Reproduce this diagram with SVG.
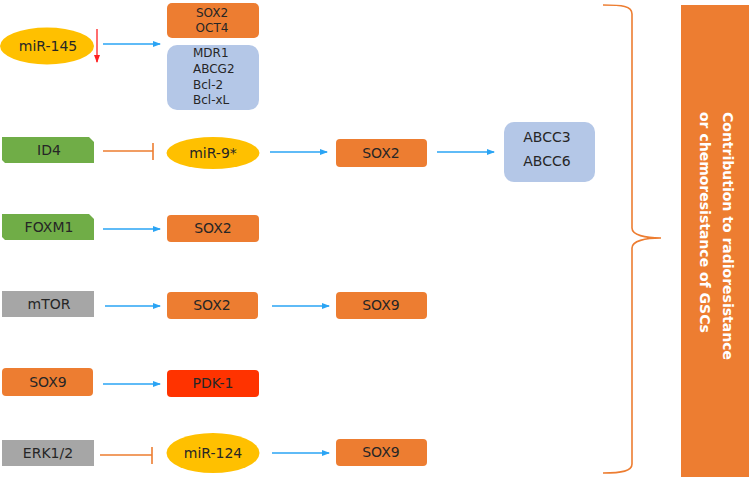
<svg xmlns="http://www.w3.org/2000/svg" width="752" height="486" viewBox="0 0 752 486">
<defs>
<style>
.t{font-family:"DejaVu Sans",Verdana,sans-serif;font-size:14px;fill:#262626;text-anchor:middle}
.s{font-size:12px}
.l{text-anchor:start}
.or{fill:#ed7d31}
.ye{fill:#ffc000}
.bl{fill:#b4c7e7}
.gr{fill:#70ad47}
.gy{fill:#a6a6a6}
.rd{fill:#ff3300}
.ar{stroke:#2aa4f4;stroke-width:1.3;fill:none;marker-end:url(#ah)}
.inh{stroke:#ed7d31;stroke-width:1.6;fill:none}
.side{font-family:"DejaVu Sans",Verdana,sans-serif;font-size:14px;font-weight:bold;fill:#ffffff}
</style>
<marker id="ah" markerWidth="8" markerHeight="6" refX="7" refY="3" orient="auto" markerUnits="userSpaceOnUse">
<path d="M0,0 L8,3 L0,6 Z" fill="#2aa4f4"/>
</marker>
<marker id="rh" markerWidth="6" markerHeight="8" refX="3" refY="7" orient="auto-start-reverse" markerUnits="userSpaceOnUse">
<path d="M0,0 L3,8 L6,0 Z" fill="#ff2020"/>
</marker>
</defs>
<rect width="752" height="486" fill="#ffffff"/>

<g id="connectors">
<line x1="97" y1="29" x2="97" y2="62" stroke="#ff2020" stroke-width="1.3"/>
<path d="M94,55 L97,63 L100,55 Z" fill="#ff2020"/>
<line class="ar" x1="103" y1="44" x2="160" y2="44"/>
<path class="inh" d="M103,151 L153,151 M153,143 L153,160"/>
<line class="ar" x1="270" y1="152" x2="327" y2="152"/>
<line class="ar" x1="437" y1="152" x2="494" y2="152"/>
<line class="ar" x1="103" y1="229" x2="160" y2="229"/>
<line class="ar" x1="105" y1="306" x2="160" y2="306"/>
<line class="ar" x1="272" y1="306" x2="329" y2="306"/>
<line class="ar" x1="103" y1="384" x2="160" y2="384"/>
<path class="inh" d="M100,455 L152,455 M152,447 L152,464"/>
<line class="ar" x1="272" y1="453" x2="329" y2="453"/>
<path d="M603,5 C622,5 632,6 632,14 L632,228 C632,235 645,238 661,238 C645,238 632,241 632,248 L632,464 C632,471 622,473 603,473" stroke="#ed7d31" stroke-width="1.6" fill="none"/>
</g>

<g id="miR145">
<ellipse class="ye" cx="47" cy="46" rx="47" ry="18.5"/>
<text class="t" x="48" y="51">miR-145</text>
</g>
<g id="sox2oct4">
<rect class="or" x="167" y="3" width="92" height="35" rx="5"/>
<text class="t s" x="212" y="17">SOX2</text>
<text class="t s" x="212" y="32">OCT4</text>
</g>
<g id="mdr1">
<rect class="bl" x="167" y="45" width="92" height="65" rx="10"/>
<text class="t s l" x="193" y="57">MDR1</text>
<text class="t s l" x="193" y="73">ABCG2</text>
<text class="t s l" x="193" y="89">Bcl-2</text>
<text class="t s l" x="193" y="104">Bcl-xL</text>
</g>

<g id="ID4">
<path class="gr" d="M2,137 L89,137 L94,142 L94,163 L5,163 L2,160 Z"/>
<text class="t" x="49" y="155">ID4</text>
</g>
<g id="miR9">
<ellipse class="ye" cx="213" cy="153" rx="46.5" ry="16"/>
<text class="t" x="213" y="158">miR-9*</text>
</g>
<g id="sox2a">
<rect class="or" x="336" y="139" width="91" height="28" rx="4"/>
<text class="t" x="381" y="158">SOX2</text>
</g>
<g id="abcc">
<rect class="bl" x="504" y="122" width="91" height="60" rx="10"/>
<text class="t" x="547" y="142">ABCC3</text>
<text class="t" x="547" y="166">ABCC6</text>
</g>

<g id="FOXM1">
<path class="gr" d="M2,214 L89,214 L94,219 L94,240 L5,240 L2,237 Z"/>
<text class="t" x="49" y="232">FOXM1</text>
</g>
<g id="sox2b">
<rect class="or" x="167" y="215" width="92" height="27" rx="4"/>
<text class="t" x="213" y="233">SOX2</text>
</g>

<g id="mTOR">
<rect class="gy" x="2" y="291" width="92" height="26"/>
<text class="t" x="49" y="309">mTOR</text>
</g>
<g id="sox2c">
<rect class="or" x="167" y="292" width="91" height="27" rx="4"/>
<text class="t" x="212" y="310">SOX2</text>
</g>
<g id="sox9a">
<rect class="or" x="336" y="292" width="91" height="27" rx="4"/>
<text class="t" x="381" y="310">SOX9</text>
</g>

<g id="sox9src">
<rect class="or" x="2" y="368" width="91" height="28" rx="4"/>
<text class="t" x="48" y="387">SOX9</text>
</g>
<g id="pdk1">
<rect class="rd" x="167" y="370" width="92" height="27" rx="4"/>
<text class="t" x="213" y="388">PDK-1</text>
</g>

<g id="ERK">
<rect class="gy" x="2" y="440" width="92" height="26"/>
<text class="t" x="48" y="458">ERK1/2</text>
</g>
<g id="miR124">
<ellipse class="ye" cx="213" cy="453" rx="46.5" ry="20"/>
<text class="t" x="213" y="458">miR-124</text>
</g>
<g id="sox9b">
<rect class="or" x="336" y="439" width="91" height="27" rx="4"/>
<text class="t" x="381" y="457">SOX9</text>
</g>

<g id="outcome">
<rect class="or" x="681" y="5" width="68" height="472"/>
<g transform="translate(723,112) rotate(90)">
<text class="side" x="0" y="0">Contribution to radioresistance</text>
<text class="side" x="0" y="23">or chemoresistance of GSCs</text>
</g>
</g>
</svg>
